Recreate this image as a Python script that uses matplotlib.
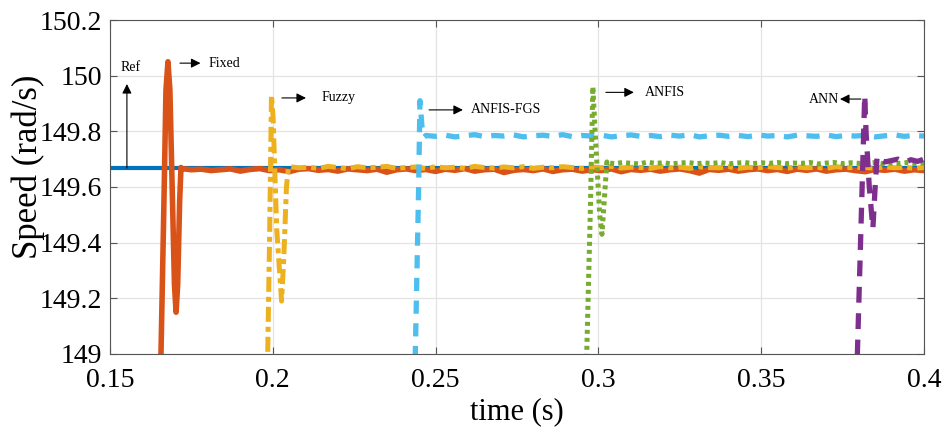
import numpy as np
import matplotlib
matplotlib.use('Agg')
import matplotlib.pyplot as plt

plt.rcParams['font.family'] = ['Liberation Serif', 'DejaVu Serif']

# --- reference speed ---
ref_t = [0.15, 0.40]
ref_v = [149.67, 149.67]

# --- transients (time, speed) ---
fixed_tr_t = [0.1655, 0.1665, 0.1672, 0.1678, 0.1684, 0.1692, 0.1698, 0.1703, 0.1708, 0.1714, 0.1718]
fixed_tr_v = [148.9, 149.5, 149.95, 150.05, 149.95, 149.55, 149.25, 149.15, 149.25, 149.55, 149.67]

fuzzy_tr_t = [0.1983, 0.1990, 0.1996, 0.2001, 0.2012, 0.2027, 0.2034, 0.2042, 0.2048]
fuzzy_tr_v = [148.9, 149.4, 149.93, 149.85, 149.45, 149.19, 149.35, 149.6, 149.67]

fgs_tr_t = [0.2436, 0.2448, 0.2452, 0.2458, 0.2465]
fgs_tr_v = [148.9, 149.6, 149.91, 149.82, 149.78]

anfis_tr_t = [0.2962, 0.2975, 0.2983, 0.2990, 0.3004, 0.3011, 0.3018, 0.3026]
anfis_tr_v = [148.9, 149.5, 149.96, 149.8, 149.5, 149.43, 149.55, 149.69]

ann_tr_t = [0.3793, 0.3810, 0.3818, 0.3822, 0.3832, 0.3843, 0.3850, 0.3856]
ann_tr_v = [148.9, 149.6, 149.93, 149.8, 149.6, 149.45, 149.6, 149.71]

# --- steady-state ripple (sampled at a fixed step) ---
fixed_ss_t0, fixed_ss_dt = 0.172, 0.003
fixed_ss = [149.666, 149.662, 149.664, 149.659, 149.662, 149.665, 149.657, 149.663, 149.666, 149.659,
            149.662, 149.655, 149.664, 149.666, 149.66, 149.663, 149.657, 149.665, 149.662, 149.659,
            149.664, 149.653, 149.662, 149.665, 149.659, 149.663, 149.656, 149.664, 149.66, 149.666,
            149.657, 149.662, 149.664, 149.652, 149.66, 149.663, 149.659, 149.665, 149.656, 149.662,
            149.664, 149.657, 149.662, 149.659, 149.665, 149.655, 149.663, 149.66, 149.664, 149.657,
            149.662, 149.665, 149.659, 149.65, 149.663, 149.66, 149.664, 149.657, 149.662, 149.665,
            149.659, 149.663, 149.656, 149.664, 149.66, 149.665, 149.657, 149.662, 149.664, 149.659,
            149.655, 149.663, 149.66, 149.664, 149.657, 149.662, 149.659]

fuzzy_ss_t0, fuzzy_ss_dt = 0.205, 0.003
fuzzy_ss = [149.673, 149.669, 149.671, 149.667, 149.674, 149.67, 149.666, 149.673, 149.669, 149.671,
            149.674, 149.667, 149.67, 149.672, 149.666, 149.673, 149.669, 149.671, 149.667, 149.674,
            149.67, 149.668, 149.672, 149.669, 149.673, 149.667, 149.671, 149.669, 149.673, 149.67,
            149.667, 149.672, 149.669, 149.674, 149.668, 149.671, 149.67, 149.667, 149.673, 149.669,
            149.671, 149.667, 149.672, 149.67, 149.669, 149.673, 149.667, 149.671, 149.669, 149.673,
            149.67, 149.668, 149.672, 149.669, 149.671, 149.667, 149.673, 149.669, 149.671, 149.67,
            149.668, 149.672, 149.669, 149.671, 149.667, 149.67]

fgs_ss_t0, fgs_ss_dt = 0.247, 0.003
fgs_ss = [149.785, 149.782, 149.786, 149.78, 149.784, 149.788, 149.781, 149.785, 149.783, 149.787,
          149.78, 149.784, 149.786, 149.782, 149.788, 149.781, 149.785, 149.783, 149.786, 149.78,
          149.784, 149.787, 149.782, 149.785, 149.781, 149.786, 149.783, 149.788, 149.78, 149.784,
          149.786, 149.782, 149.785, 149.781, 149.787, 149.783, 149.785, 149.78, 149.786, 149.784,
          149.782, 149.787, 149.781, 149.785, 149.783, 149.786, 149.78, 149.784, 149.787, 149.782,
          149.785, 149.783]

anfis_ss_t0, anfis_ss_dt = 0.3025, 0.0025
anfis_ss = [149.687, 149.684, 149.688, 149.685, 149.683, 149.689, 149.685, 149.687, 149.683, 149.686,
            149.688, 149.684, 149.686, 149.685, 149.688, 149.683, 149.686, 149.688, 149.684, 149.687,
            149.685, 149.688, 149.684, 149.686, 149.685, 149.688, 149.683, 149.686, 149.688, 149.684,
            149.687, 149.685, 149.686, 149.688, 149.684, 149.686, 149.685, 149.688, 149.684, 149.686]

ann_ss_t0, ann_ss_dt = 0.386, 0.002
ann_ss = [149.70, 149.69, 149.695, 149.70, 149.688, 149.698, 149.692, 149.70]

xticks = [0.15, 0.2, 0.25, 0.3, 0.35, 0.4]
xtick_labels = ['0.15', '0.2', '0.25', '0.3', '0.35', '0.4']
yticks = [149, 149.2, 149.4, 149.6, 149.8, 150, 150.2]
ytick_labels = ['149', '149.2', '149.4', '149.6', '149.8', '150', '150.2']


def series(tr_t, tr_v, t0, dt, ss):
    t = np.concatenate([tr_t, t0 + dt * np.arange(len(ss))])
    v = np.concatenate([tr_v, ss])
    return t, v


fig = plt.figure(figsize=(9.44, 4.32), dpi=100)
ax = fig.add_axes([0.1165, 0.1806, 0.8623, 0.7731])

ax.plot(ref_t, ref_v, color='#0072BD', lw=3)

t, v = series(fixed_tr_t, fixed_tr_v, fixed_ss_t0, fixed_ss_dt, fixed_ss)
ax.plot(t, v, color='#D95319', lw=4)

t, v = series(fuzzy_tr_t, fuzzy_tr_v, fuzzy_ss_t0, fuzzy_ss_dt, fuzzy_ss)
ax.plot(t, v, color='#EDB120', lw=3.6, linestyle=(0, (3, 1, 1, 1)))

t, v = series(fgs_tr_t, fgs_tr_v, fgs_ss_t0, fgs_ss_dt, fgs_ss)
ax.plot(t, v, color='#4DBEEE', lw=3.8, linestyle=(0, (2.5, 1.8)))

t, v = series(anfis_tr_t, anfis_tr_v, anfis_ss_t0, anfis_ss_dt, anfis_ss)
ax.plot(t, v, color='#77AC30', lw=3.6, linestyle=(0, (0.8, 0.8)))

t, v = series(ann_tr_t, ann_tr_v, ann_ss_t0, ann_ss_dt, ann_ss)
ax.plot(t, v, color='#7E2F8E', lw=3.8, linestyle=(0, (3, 2)))

# annotations
arrow = dict(arrowstyle='-|>', color='black', lw=0.8, mutation_scale=14, shrinkA=0, shrinkB=0)
ax.annotate('', xy=(0.1552, 149.97), xytext=(0.1552, 149.668), arrowprops=arrow)
ax.text(0.1531, 150.03, 'Ref', fontsize=10, va='center')
ax.annotate('', xy=(0.1778, 150.045), xytext=(0.1715, 150.045), arrowprops=arrow)
ax.text(0.1804, 150.045, 'Fixed', fontsize=10, va='center')
ax.annotate('', xy=(0.2102, 149.92), xytext=(0.2028, 149.92), arrowprops=arrow)
ax.text(0.2151, 149.92, 'Fuzzy', fontsize=10, va='center')
ax.annotate('', xy=(0.2584, 149.877), xytext=(0.2480, 149.877), arrowprops=arrow)
ax.text(0.2609, 149.877, 'ANFIS-FGS', fontsize=10, va='center')
ax.annotate('', xy=(0.3109, 149.94), xytext=(0.3023, 149.94), arrowprops=arrow)
ax.text(0.3143, 149.94, 'ANFIS', fontsize=10, va='center')
ax.annotate('', xy=(0.3742, 149.916), xytext=(0.3806, 149.916), arrowprops=arrow)
ax.text(0.3739, 149.916, 'ANN', fontsize=10, va='center', ha='right')

ax.set_xlim(0.15, 0.4)
ax.set_ylim(149, 150.2)
ax.set_xticks(xticks)
ax.set_xticklabels(xtick_labels)
ax.set_yticks(yticks)
ax.set_yticklabels(ytick_labels)
ax.tick_params(direction='in', top=True, right=True, labelsize=20, length=5, color='#555555')
ax.tick_params(axis='x', pad=10)
ax.tick_params(axis='y', pad=6)
ax.grid(True, color='#e3e3e3', lw=0.9)
for s in ax.spines.values():
    s.set_color('#555555')
    s.set_linewidth(0.8)

ax.set_xlabel('time (s)', fontsize=22, labelpad=3)
ax.set_ylabel('Speed (rad/s)', fontsize=25)
ax.yaxis.set_label_coords(-0.08, 0.56)

fig.savefig('out.png', dpi=100)
